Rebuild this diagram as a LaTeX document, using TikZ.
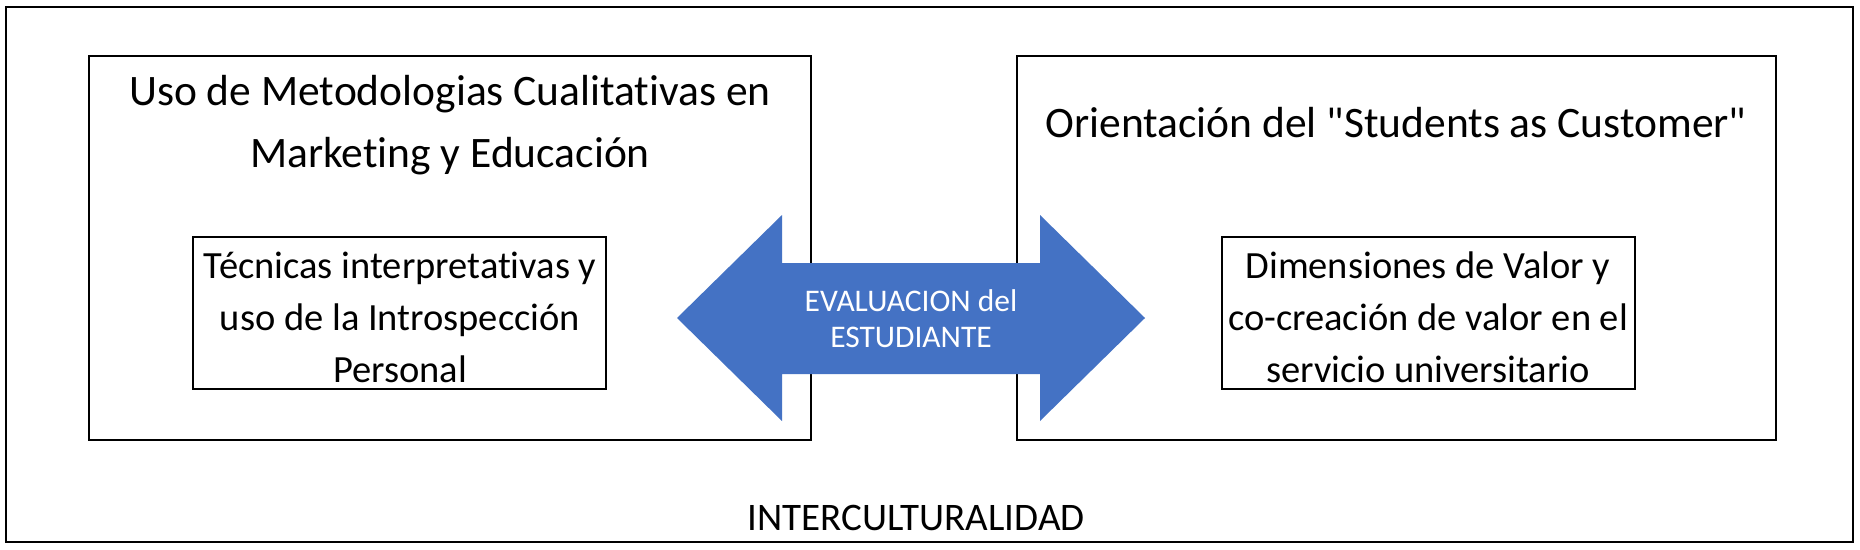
\documentclass[tikz,border=0pt]{standalone}
\usepackage{fontspec}
\setmainfont{Carlito}[Ligatures={TeXOff,NoCommon}]
\definecolor{offblue}{HTML}{4472C4}
\begin{document}
\begin{tikzpicture}[x=1pt,y=-1pt,
  box/.style={draw=black,line width=2pt,fill=white},
  txt/.style={align=center,inner sep=0pt,text=black},
]
\useasboundingbox (0,0) rectangle (1860,549);
\fill[white] (0,0) rectangle (1860,549);
% outer frame
\draw[line width=2.6pt] (6,7) rectangle (1853,542);
% main boxes
\draw[box] (89,56) rectangle (811,440);
\draw[box] (1017,56) rectangle (1776,440);
% inner boxes
\draw[box] (193,237) rectangle (606,389);
\draw[box] (1222,237) rectangle (1635,389);
% double arrow
\fill[offblue] (677,318) -- (782,215) -- (782,263) -- (1040,263) -- (1040,215)
  -- (1145,318) -- (1040,421) -- (1040,374) -- (782,374) -- (782,421) -- cycle;
% texts
\node[txt,font=\fontsize{43.5}{62}\selectfont] (lt) at (450,125)
  {Uso de Metodologias Cualitativas en\\Marketing y Educación};
\node[txt,font=\fontsize{43.5}{62}\selectfont] (rt) at (1396,123)
  {Orientación del "Students as Customer"};
\node[txt,font=\fontsize{38.5}{52}\selectfont] (li) at (400,317)
  {Técnicas interpretativas y\\uso de la Introspección\\Personal};
\node[txt,font=\fontsize{38.5}{52}\selectfont] (ri) at (1428,317)
  {Dimensiones de Valor y\\co-creación de valor en el\\servicio universitario};
\node[txt,text=white,font=\fontsize{31.5}{36}\selectfont] (ev) at (911,319)
  {EVALUACION del\\ESTUDIANTE};
\node[txt,font=\fontsize{39}{45}\selectfont] (ic) at (916,518) {INTERCULTURALIDAD};
\end{tikzpicture}
\end{document}
